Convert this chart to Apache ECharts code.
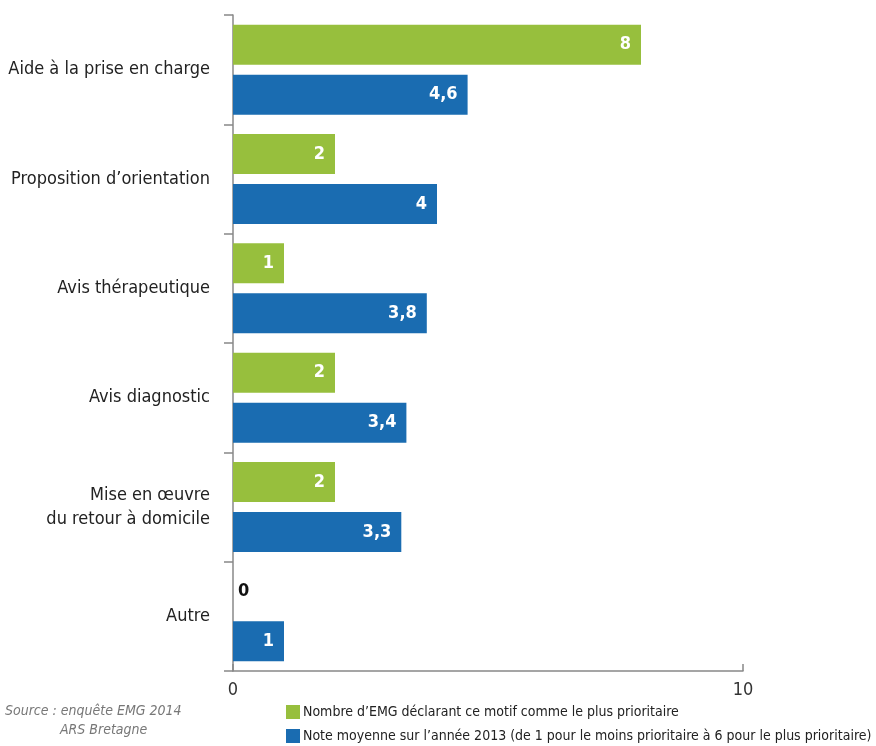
<!DOCTYPE html>
<html>
<head>
<meta charset="utf-8">
<script src="https://cdn.jsdelivr.net/npm/echarts@6/dist/echarts.min.js"></script>
<style>
  html, body { margin: 0; padding: 0; background: #fff; }
  #chart { width: 876px; height: 746px; }
</style>
</head>
<body>
<div id="chart"></div>
<script>
// Motifs de sollicitation, du plus au moins prioritaire
const categories = [
  'Aide à la prise en charge',
  'Proposition d\u2019orientation',
  'Avis thérapeutique',
  'Avis diagnostic',
  'Mise en œuvre\ndu retour à domicile',
  'Autre'
];
const seriesNames = [
  'Nombre d\u2019EMG déclarant ce motif comme le plus prioritaire',
  'Note moyenne sur l\u2019année 2013 (de 1 pour le moins prioritaire à 6 pour le plus prioritaire)'
];
const nbEmg = [8, 2, 1, 2, 2, 0];
const noteMoyenne = [4.6, 4, 3.8, 3.4, 3.3, 1];
const xTicks = [0, 10];
const sourceLines = ['Source : enquête EMG 2014', 'ARS Bretagne'];

const FONT = '"Liberation Sans Narrow", "DejaVu Sans Condensed", "Roboto", sans-serif';
const GREEN = '#97bf3d';
const BLUE = '#1a6cb1';

const fmt = v => String(v).replace('.', ',');

const chart = echarts.init(document.getElementById('chart'));

const labelBase = {
  show: true,
  position: 'insideRight',
  distance: 10,
  color: '#ffffff',
  fontFamily: FONT,
  fontWeight: 'bold',
  fontSize: 18,
  formatter: p => fmt(p.value)
};

chart.setOption({
  animation: false,
  textStyle: { fontFamily: FONT },
  grid: { left: 233, right: 133, top: 15, bottom: 75 },
  xAxis: {
    type: 'value',
    min: xTicks[0],
    max: xTicks[xTicks.length - 1],
    interval: xTicks[1] - xTicks[0],
    axisLine: { show: true, lineStyle: { color: '#888', width: 1.5 } },
    axisTick: { show: true, inside: true, length: 7, lineStyle: { color: '#888', width: 1.5 } },
    splitLine: { show: false },
    axisLabel: { color: '#333', fontSize: 18, fontFamily: FONT, margin: 10 }
  },
  yAxis: {
    type: 'category',
    inverse: true,
    data: categories,
    axisLine: { show: true, lineStyle: { color: '#888', width: 1.5 } },
    axisTick: { show: true, length: 9, lineStyle: { color: '#888', width: 1.5 } },
    axisLabel: {
      color: '#222', fontSize: 18, fontFamily: FONT, margin: 23,
      lineHeight: 24, align: 'right'
    }
  },
  legend: {
    orient: 'vertical',
    left: 286,
    top: 705,
    padding: 0,
    itemWidth: 14,
    itemHeight: 14,
    itemGap: 10,
    icon: 'rect',
    textStyle: { color: '#222', fontSize: 14, fontFamily: FONT, padding: [0, 0, 0, -2] },
    data: seriesNames
  },
  graphic: [
    {
      type: 'text', x: 5, y: 704,
      style: { text: sourceLines[0], fill: '#777', font: 'italic 14px ' + FONT }
    },
    {
      type: 'text', x: 60, y: 723,
      style: { text: sourceLines[1], fill: '#777', font: 'italic 14px ' + FONT }
    }
  ],
  series: [
    {
      name: seriesNames[0],
      type: 'bar',
      barWidth: 40,
      barGap: '25%',
      itemStyle: { color: GREEN },
      label: labelBase,
      data: nbEmg.map(v => v === 0
        ? { value: v, label: { position: 'right', distance: 5, color: '#111' } }
        : v)
    },
    {
      name: seriesNames[1],
      type: 'bar',
      barWidth: 40,
      itemStyle: { color: BLUE },
      label: labelBase,
      data: noteMoyenne
    }
  ]
});
</script>
</body>
</html>
